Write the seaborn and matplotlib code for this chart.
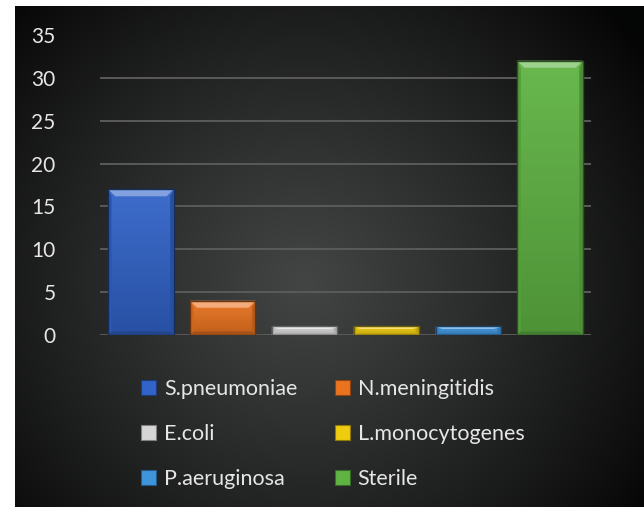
import numpy as np
import pandas as pd
import matplotlib
matplotlib.use("Agg")
import matplotlib.pyplot as plt
from matplotlib.patches import Polygon, Rectangle
from matplotlib.colors import to_rgb
import seaborn as sns

# Data
organisms = ["S.pneumoniae", "N.meningitidis", "E.coli",
             "L.monocytogenes", "P.aeruginosa", "Sterile"]
counts = [17, 4, 1, 1, 1, 32]
colors = ["#3163c8", "#e9731f", "#d6d6d6", "#f0cc10", "#3f95dc", "#5fb343"]
y_ticks = [0, 5, 10, 15, 20, 25, 30, 35]

sns.set_theme(style="dark")
plt.rcParams["font.family"] = ["Lato", "DejaVu Sans"]

W, H, DPI = 644, 507, 100
fig = plt.figure(figsize=(W / DPI, H / DPI), dpi=DPI, facecolor="white")

# Dark radial-gradient panel
bg = fig.add_axes([15 / W, 0, 1 - 15 / W, 1 - 6 / H])
bg.set_axis_off()
gx, gy = np.meshgrid(np.linspace(0, 1, 400), np.linspace(0, 1, 320))
r = np.sqrt(((gx - 0.46) / 0.66) ** 2 + ((gy - 0.55) / 0.8) ** 2)
v = np.clip(1 - r, 0, 1) ** 0.9
shade = 0.02 + 0.25 * v
img = np.dstack([shade * 0.98, shade, shade])
bg.imshow(img, aspect="auto", extent=[0, 1, 0, 1], origin="upper")

df = pd.DataFrame({"organism": organisms, "count": counts})
ax = fig.add_axes([100 / W, 1 - 335 / H, 491 / W, 300 / H])
ax.patch.set_alpha(0)
sns.barplot(data=df, x="organism", y="count", hue="organism",
            palette=colors, width=0.8, legend=False, ax=ax,
            edgecolor="none", saturation=1)
ax.set_ylim(0, 35)
ax.set_xlim(-0.5, len(organisms) - 0.5)
ax.set_yticks(y_ticks)
ax.set_yticklabels([str(t) for t in y_ticks], color="#e6e6e6", fontsize=15)
ax.set_xticks([])
ax.set_xlabel("")
ax.set_ylabel("")
ax.tick_params(axis="y", length=0, pad=32)
for s in ax.spines.values():
    s.set_visible(False)
ax.grid(False)
for t in y_ticks[:-1]:
    ax.axhline(t, color="#5a5a5a", lw=1.4, zorder=0.5)


def mix(c, other, a):
    c = np.array(to_rgb(c)); o = np.array(to_rgb(other))
    return tuple(c * (1 - a) + o * a)


# Bevelled look on each bar
px_x = 491 / len(organisms)   # pixels per category
px_y = 300 / 35               # pixels per unit
for patch, col in zip(ax.patches, colors):
    x0, y0 = patch.get_x(), patch.get_y()
    w, h = patch.get_width(), patch.get_height()
    x1, y1 = x0 + w, y0 + h
    bx = 7 / px_x
    by = min(7 / px_y, h * 0.3)
    # vertical shading: lighter top, darker bottom
    grad = np.linspace(0, 1, 50)[:, None]
    top_c = np.array(mix(col, "white", 0.06))
    bot_c = np.array(mix(col, "black", 0.18))
    gimg = top_c[None, None, :] * (1 - grad[..., None]) + bot_c[None, None, :] * grad[..., None]
    im = ax.imshow(gimg, extent=[x0, x1, y0, y1], aspect="auto", origin="upper", zorder=2.1)
    im.set_clip_path(patch)
    # top bevel
    ax.add_patch(Polygon([[x0, y1], [x1, y1], [x1 - bx, y1 - by], [x0 + bx, y1 - by]],
                         closed=True, facecolor=mix(col, "white", 0.4),
                         edgecolor="none", zorder=2.3))
    # side bevels
    ax.add_patch(Polygon([[x0, y1], [x0 + bx * 0.5, y1 - by], [x0 + bx * 0.5, y0 + by * 0.5], [x0, y0]],
                         closed=True, facecolor=mix(col, "black", 0.12),
                         edgecolor="none", zorder=2.3))
    ax.add_patch(Polygon([[x1, y1], [x1 - bx * 0.5, y1 - by], [x1 - bx * 0.5, y0 + by * 0.5], [x1, y0]],
                         closed=True, facecolor=mix(col, "black", 0.2),
                         edgecolor="none", zorder=2.3))
    # bottom bevel
    ax.add_patch(Polygon([[x0, y0], [x1, y0], [x1 - bx * 0.5, y0 + by * 0.5], [x0 + bx * 0.5, y0 + by * 0.5]],
                         closed=True, facecolor=mix(col, "black", 0.3),
                         edgecolor="none", zorder=2.3))
    # dark outline
    ax.add_patch(Rectangle((x0, y0), w, h, fill=False,
                           edgecolor=mix(col, "black", 0.55), lw=1.0, zorder=2.4))

# Legend: 3 rows x 2 columns
handles = [Rectangle((0, 0), 1, 1, facecolor=c, edgecolor=mix(c, "black", 0.4), lw=0.8)
           for c in colors]
order = [0, 2, 4, 1, 3, 5]
leg = fig.legend([handles[i] for i in order], [organisms[i] for i in order],
                 loc="upper left", bbox_to_anchor=(122 / W, 1 - 360 / H),
                 ncol=2, frameon=False, fontsize=15.5, labelcolor="#e6e6e6",
                 handlelength=0.7, handleheight=0.7, handletextpad=0.35,
                 labelspacing=1.15, columnspacing=1.75)

fig.savefig("out.png", dpi=DPI, facecolor="white")
